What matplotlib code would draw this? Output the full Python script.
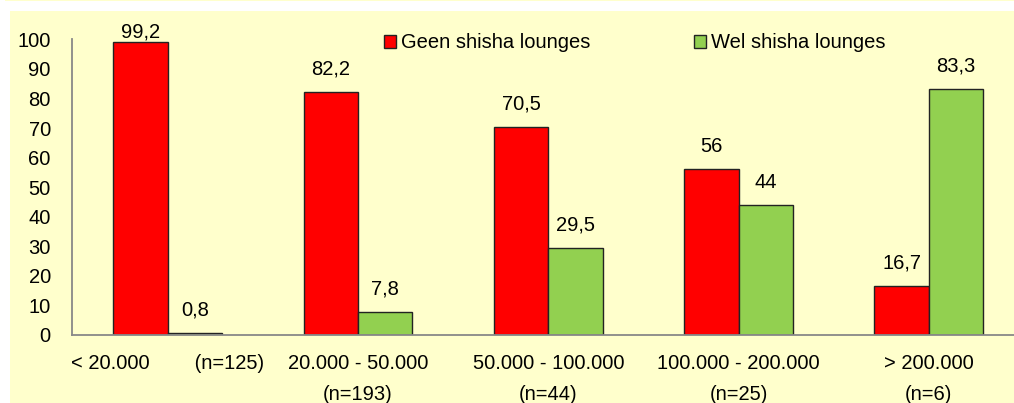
import matplotlib.pyplot as plt
from matplotlib.patches import Rectangle

plt.rcParams['font.family'] = ['Liberation Sans', 'DejaVu Sans']

# data
categories = ['< 20.000        (n=125)', '20.000 - 50.000\n(n=193)',
              '50.000 - 100.000\n(n=44)', '100.000 - 200.000\n(n=25)',
              '> 200.000\n(n=6)']
geen = [99.2, 82.2, 70.5, 56, 16.7]
wel = [0.8, 7.8, 29.5, 44, 83.3]
series_names = ['Geen shisha lounges', 'Wel shisha lounges']
yticks = [0, 10, 20, 30, 40, 50, 60, 70, 80, 90, 100]

red = '#FF0000'
green = '#92D050'
cream = '#FFFFCC'
fs = 14.5

fig = plt.figure(figsize=(10.14, 4.03), dpi=100, facecolor='white')
# cream background panel with white margin at top/left
fig.patches.append(Rectangle((10 / 1014, 0), 1, 1 - 11 / 403, transform=fig.transFigure,
                             facecolor=cream, edgecolor='none', zorder=-10))
fig.patches.append(Rectangle((5 / 1014, 1 - 1.2 / 403), 1, 1.2 / 403, transform=fig.transFigure,
                             facecolor=cream, edgecolor='none', zorder=-10))

ax = fig.add_axes([71.7 / 1014, 1 - 335 / 403, 1 - 71.7 / 1014, (335 - 39.3) / 403])
ax.set_facecolor('none')

x = list(range(len(categories)))
w = 0.286
b1 = ax.bar([i - w / 2 for i in x], geen, w, color=red, edgecolor='#222222', linewidth=1.0,
            label=series_names[0])
b2 = ax.bar([i + w / 2 for i in x], wel, w, color=green, edgecolor='#222222', linewidth=1.0,
            label=series_names[1])

# value labels (Excel-style, top one pushed down to stay inside)
for bars, vals in ((b1, geen), (b2, wel)):
    for bar, v in zip(bars, vals):
        y = min(v + 5.75, 100.7)
        ax.text(bar.get_x() + bar.get_width() / 2, y, f'{v:g}'.replace('.', ','),
                ha='center', va='baseline', fontsize=fs, clip_on=False)

ax.set_xlim(-0.505, 4.448)
ax.set_ylim(0, 100)
ax.set_xticks(x)
ax.set_xticklabels(categories, fontsize=fs, linespacing=1.75)
ax.set_yticks(yticks)
ax.set_yticklabels([str(t) for t in yticks], fontsize=fs)
ax.tick_params(axis='x', length=0, pad=14)
ax.tick_params(axis='y', length=0, pad=15)

for s in ('top', 'right'):
    ax.spines[s].set_visible(False)
for s in ('left', 'bottom'):
    ax.spines[s].set_color('#888888')
    ax.spines[s].set_linewidth(1.3)

ax.legend(loc='center left', bbox_to_anchor=(384 / 1014, 1 - 43 / 403),
          bbox_transform=fig.transFigure, ncol=2, frameon=False, borderpad=0,
          borderaxespad=0, handlelength=0.6, handleheight=0.6, handletextpad=0.25,
          columnspacing=5.15, fontsize=fs)

fig.savefig('out.png', dpi=100, facecolor=fig.get_facecolor())
